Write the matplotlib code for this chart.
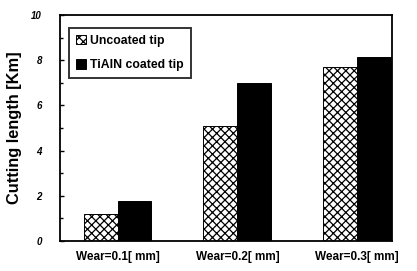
import matplotlib
matplotlib.use("Agg")
import matplotlib.pyplot as plt
import numpy as np

plt.rcParams['font.family'] = ['Liberation Sans', 'DejaVu Sans']
plt.rcParams['hatch.linewidth'] = 0.9

# data
categories = ["Wear=0.1[ mm]", "Wear=0.2[ mm]", "Wear=0.3[ mm]"]
uncoated = [1.2, 5.1, 7.7]
coated = [1.75, 7.0, 8.15]
series_names = ["Uncoated tip", "TiAlN coated tip"]

fig = plt.figure(figsize=(4.17, 2.71), dpi=100)
ax = fig.add_axes([0.144, 0.111, 0.796, 0.834])

x = np.arange(len(categories))
w = 0.283
ax.bar(x - w / 2, uncoated, w, facecolor='white', edgecolor='black',
       hatch='xxxx', linewidth=0.7, label=series_names[0])
ax.bar(x + w / 2, coated, w, color='black', edgecolor='black',
       linewidth=0.7, label=series_names[1])

ax.set_xlim(-0.48, 2.29)
ax.set_ylim(0, 10)
ax.set_yticks([0, 2, 4, 6, 8, 10])
ax.set_yticks([1, 3, 5, 7, 9], minor=True)
ax.set_xticks([])
for s in ax.spines.values():
    s.set_linewidth(1.3)
ax.tick_params(axis='y', direction='in', length=3, width=1, labelsize=7, pad=13)
ax.tick_params(axis='y', which='minor', direction='in', length=2, width=1)
for t in ax.get_yticklabels():
    t.set_fontweight('bold')
    t.set_fontstyle('italic')

for xi, lab in zip(x, categories):
    ax.text(xi, -0.45, lab, ha='center', va='top', fontsize=8.5,
            fontweight='bold', transform=ax.transData)

ax.set_ylabel("Cutting length [Km]", fontsize=11.8, fontweight='bold', labelpad=7)

leg = ax.legend(loc='upper left', bbox_to_anchor=(0.02, 0.955), frameon=True,
                fancybox=False, edgecolor='black', fontsize=8.8,
                handlelength=0.8, handleheight=0.8, handletextpad=0.3,
                borderpad=0.6, labelspacing=1.0, borderaxespad=0.2)
leg.get_frame().set_linewidth(1.4)
for t in leg.get_texts():
    t.set_fontweight('bold')

fig.savefig("out.png", dpi=100)
